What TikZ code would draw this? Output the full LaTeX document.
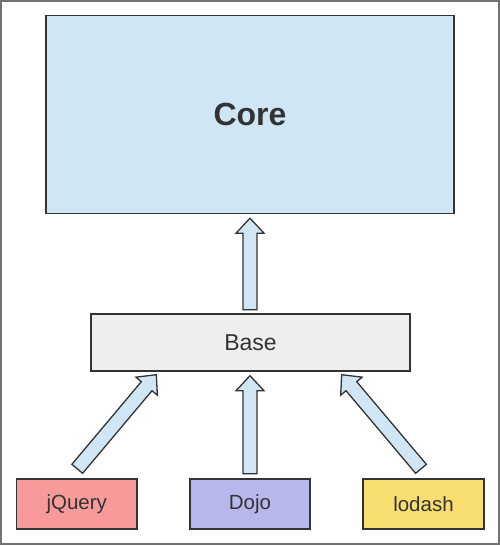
\documentclass[tikz,border=0pt]{standalone}
\usepackage{fontspec}
\setmainfont{Liberation Sans}
\usetikzlibrary{calc}
\definecolor{corefill}{HTML}{D1E6F4}
\definecolor{basefill}{HTML}{EEEEEE}
\definecolor{jqfill}{HTML}{F99A9A}
\definecolor{dojofill}{HTML}{B7B7EB}
\definecolor{lodfill}{HTML}{F8DE70}
\definecolor{edge}{HTML}{333333}
\definecolor{framegray}{HTML}{737373}
\tikzset{
  box/.style={draw=edge, line width=1.4pt, inner sep=0pt, text=edge, anchor=center},
  blockarrow/.style={draw=edge, line width=1.3pt, fill=corefill, line join=miter},
}
\newcommand\barrow[2]{%
  \coordinate (hb) at ($(#2)!15pt!(#1)$);
  \draw[blockarrow] ($(#1)!7pt!90:(#2)$) -- ($(hb)!7pt!90:(#2)$) -- ($(hb)!14pt!90:(#2)$)
    -- (#2) -- ($(hb)!14pt!-90:(#2)$) -- ($(hb)!7pt!-90:(#2)$) -- ($(#1)!7pt!-90:(#2)$) -- cycle;
}
\begin{document}
\begin{tikzpicture}[x=1pt, y=-1pt]
\useasboundingbox (0,0) rectangle (500,546);
\draw[framegray, line width=2pt] (1,1) rectangle (499,544);
\node[box, fill=corefill, minimum width=408pt, minimum height=198pt, font=\fontsize{32}{38}\selectfont\bfseries] (core) at (250,114.5) {Core};
\node[box, fill=basefill, minimum width=319pt, minimum height=57pt, font=\fontsize{23}{27}\selectfont] (base) at (250.5,342.5) {Base};
\node[box, fill=jqfill, minimum width=120.5pt, minimum height=50pt, font=\fontsize{20.5}{24}\selectfont] (jq) at (76.75,504) {jQuery};
\node[box, fill=dojofill, minimum width=120pt, minimum height=50pt, font=\fontsize{20.5}{24}\selectfont] (dojo) at (250,504) {Dojo};
\node[box, fill=lodfill, minimum width=121pt, minimum height=50pt, font=\fontsize{20.5}{24}\selectfont] (lod) at (423.5,504) {lodash};
% arrow endpoints
\coordinate (c1) at ($(base.north)+(-0.5,-3.5)$);
\coordinate (c2) at ($(core.south)+(0,4)$);
\coordinate (d1) at ($(dojo.north)+(0,-4.5)$);
\coordinate (d2) at ($(base.south)+(-0.5,4)$);
\coordinate (j1) at ($(jq.north)+(0.5,-9.5)$);
\coordinate (j2) at ($(base.south west)+(66,3)$);
\coordinate (l1) at ($(lod.north)+(-2.5,-9.5)$);
\coordinate (l2) at ($(base.south east)+(-69,3)$);
\barrow{c1}{c2}
\barrow{d1}{d2}
\barrow{j1}{j2}
\barrow{l1}{l2}
\end{tikzpicture}
\end{document}
